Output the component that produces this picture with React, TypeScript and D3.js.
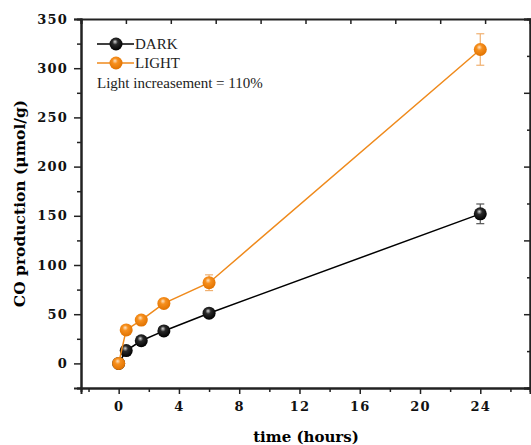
import React, { useEffect, useRef } from "react";
import * as d3 from "d3";

const hours = [0, 0.5, 1.5, 3, 6, 24];
const darkValues = [0, 13, 23, 33, 51, 152];
const darkErrors = [0, 1, 1, 1, 2, 10];
const lightValues = [0, 34, 44, 61, 82, 319];
const lightErrors = [0, 2, 2, 2, 8, 16];
const xTicks = [0, 4, 8, 12, 16, 20, 24];
const yTicks = [0, 50, 100, 150, 200, 250, 300, 350];

const W = 531;
const H = 445;
const margin = { top: 19, right: 1, bottom: 57, left: 81 };

const App = () => {
  const svgRef = useRef<SVGSVGElement>(null);

  useEffect(() => {
    const svg = d3.select(svgRef.current);
    svg.selectAll("*").remove();

    const x = d3.scaleLinear().domain([-2.5, 27.3]).range([margin.left, W - margin.right]);
    const y = d3.scaleLinear().domain([-25, 350]).range([H - margin.bottom, margin.top]);
    // the box's top and right edges carry their own plain tick spacing
    const xTop = d3.scaleLinear().domain([0, 10]).range([margin.left, W - margin.right]);
    const yRight = d3.scaleLinear().domain([0, 5]).range([H - margin.bottom, margin.top]);

    const defs = svg.append("defs");
    const grad = (id, hi, mid, lo) => {
      const g = defs.append("radialGradient").attr("id", id).attr("cx", "45%").attr("cy", "40%").attr("r", "60%").attr("fx", "42%").attr("fy", "32%");
      g.append("stop").attr("offset", "0%").attr("stop-color", hi);
      g.append("stop").attr("offset", "35%").attr("stop-color", mid);
      g.append("stop").attr("offset", "100%").attr("stop-color", lo);
    };
    grad("ballDark", "#d8d8d8", "#2a2a2a", "#000");
    grad("ballLight", "#fde3c4", "#f7901e", "#e07200");

    const font = "'Liberation Serif', 'Times New Roman', serif";
    const heavy = "'DejaVu Serif', serif";

    // axes
    const bottom = svg.append("g").attr("transform", `translate(0,${y.range()[0]})`)
      .call(d3.axisBottom(x).tickValues(xTicks).tickSize(6).tickPadding(8));
    svg.append("g").attr("transform", `translate(0,${y.range()[0]})`)
      .call(d3.axisBottom(x).tickValues(d3.range(-2, 27, 4)).tickSize(4).tickFormat(() => ""));
    const left = svg.append("g").attr("transform", `translate(${margin.left},0)`)
      .call(d3.axisLeft(y).tickValues(yTicks).tickSize(7).tickPadding(6));
    svg.append("g").attr("transform", `translate(${margin.left},0)`)
      .call(d3.axisLeft(y).tickValues(d3.range(-25, 350, 50)).tickSize(4).tickFormat(() => ""));
    svg.append("g").attr("transform", `translate(0,${margin.top})`)
      .call(d3.axisBottom(xTop).ticks(10).tickSize(5).tickFormat(() => ""));
    svg.append("g").attr("transform", `translate(${W - margin.right},0)`)
      .call(d3.axisLeft(yRight).ticks(5).tickSize(6).tickFormat(() => ""));
    svg.append("g").attr("transform", `translate(${W - margin.right},0)`)
      .call(d3.axisLeft(yRight).tickValues(d3.range(0.5, 5, 1)).tickSize(3).tickFormat(() => ""));

    svg.selectAll(".domain").attr("stroke", "#222").attr("stroke-width", 2);
    svg.selectAll(".tick line").attr("stroke", "#222").attr("stroke-width", 1.5);
    [bottom, left].forEach(g => g.selectAll("text")
      .attr("font-family", heavy).attr("font-weight", "bold").attr("font-size", 13)
      .attr("letter-spacing", 1.2).attr("fill", "#111"));

    const series = [
      { values: darkValues, errors: darkErrors, color: "#000", fill: "url(#ballDark)" },
      { values: lightValues, errors: lightErrors, color: "#ef8a1c", fill: "url(#ballLight)" },
    ];

    const line = d3.line<number>().x((_, i) => x(hours[i])).y(d => y(d));

    series.forEach(s => {
      const g = svg.append("g");
      g.append("path").datum(s.values).attr("d", line).attr("fill", "none")
        .attr("stroke", s.color).attr("stroke-width", 1.5);
      const eb = g.selectAll(".eb").data(s.values.map((v, i) => ({ v, e: s.errors[i], t: hours[i] })).filter(d => d.e > 3))
        .enter().append("g").attr("stroke", s.color === "#000" ? "#555" : "#f0b070").attr("stroke-width", 1.2);
      eb.append("line").attr("x1", d => x(d.t)).attr("x2", d => x(d.t)).attr("y1", d => y(d.v - d.e)).attr("y2", d => y(d.v + d.e));
      eb.append("line").attr("x1", d => x(d.t) - 4).attr("x2", d => x(d.t) + 4).attr("y1", d => y(d.v - d.e)).attr("y2", d => y(d.v - d.e));
      eb.append("line").attr("x1", d => x(d.t) - 4).attr("x2", d => x(d.t) + 4).attr("y1", d => y(d.v + d.e)).attr("y2", d => y(d.v + d.e));
      g.selectAll("circle").data(s.values).enter().append("circle")
        .attr("cx", (_, i) => x(hours[i])).attr("cy", d => y(d)).attr("r", 6.5).attr("fill", s.fill);
    });

    // legend
    const legend = svg.append("g").attr("transform", "translate(97,44)");
    [["DARK", series[0]], ["LIGHT", series[1]]].forEach(([label, s], i) => {
      const row = legend.append("g").attr("transform", `translate(0,${i * 19})`);
      row.append("line").attr("x1", 0).attr("x2", 37).attr("stroke", s.color).attr("stroke-width", 1.5);
      row.append("circle").attr("cx", 19).attr("r", 6.5).attr("fill", s.fill);
      row.append("text").attr("x", 38).attr("y", 5).text(label)
        .attr("font-family", font).attr("font-size", 15).attr("fill", "#222");
    });
    legend.append("text").attr("x", 0).attr("y", 44).text("Light increasement = 110%")
      .attr("font-family", font).attr("font-size", 15).attr("fill", "#222");

    // axis titles
    svg.append("text").attr("x", 306).attr("y", H - 3).attr("text-anchor", "middle")
      .attr("font-family", heavy).attr("font-weight", "bold").attr("font-size", 15).text("time (hours)");
    svg.append("text").attr("transform", `translate(25,${(y.range()[0] + y.range()[1]) / 2}) rotate(-90)`)
      .attr("text-anchor", "middle").attr("font-family", heavy).attr("font-weight", "bold").attr("font-size", 15.5)
      .text("CO production (\u03bcmol/g)");
  }, []);

  return (
    <svg ref={svgRef} width={W} height={H} style={{ position: "absolute", left: 0, top: 0, background: "#fff" }} />
  );
};

export default App;
